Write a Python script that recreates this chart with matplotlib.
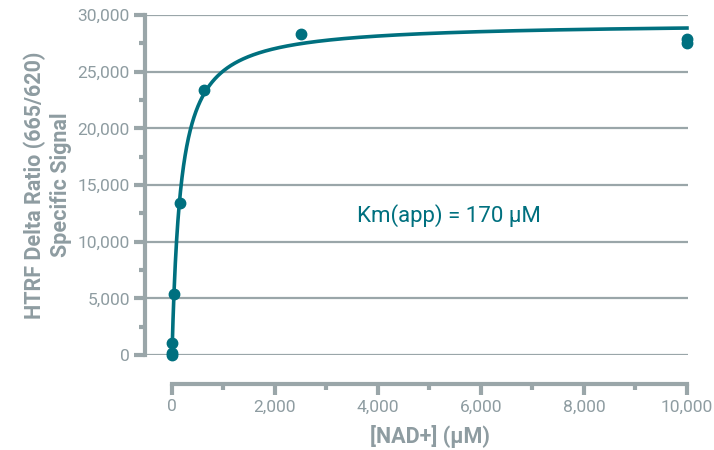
import numpy as np
import matplotlib
matplotlib.use("Agg")
import matplotlib.pyplot as plt
from matplotlib.ticker import MultipleLocator, FuncFormatter

# data
nad_um = [0, 2.4, 9.8, 39, 156, 625, 2500, 10000, 10000]
signal = [0, 150, 1100, 5400, 13400, 23400, 28300, 27550, 27850]
km_app = 170
vmax = 29340

teal = "#00707f"
grey = "#8e9ca1"
grid_c = "#9aa6a9"

plt.rcParams['font.family'] = ['Roboto', 'DejaVu Sans']

fig = plt.figure(figsize=(7.14, 4.5), dpi=100)
ax = fig.add_axes([145/714, 95/450, (688-145)/714, 340/450])

x_fit = np.linspace(0, 10000, 2000)
y_fit = vmax * x_fit / (km_app + x_fit)
ax.plot(x_fit, y_fit, color=teal, lw=2.6, zorder=3, clip_on=False)
ax.plot(nad_um, signal, 'o', color=teal, ms=7.5, zorder=4, clip_on=False)

ax.set_xlim(-524, 10020)
ax.set_ylim(0, 30000)

ax.yaxis.set_major_locator(MultipleLocator(5000))
ax.yaxis.set_minor_locator(MultipleLocator(2500))
ax.xaxis.set_major_locator(MultipleLocator(2000))
ax.xaxis.set_minor_locator(MultipleLocator(1000))
fmt = FuncFormatter(lambda v, p: f"{int(v):,}")
ax.yaxis.set_major_formatter(fmt)
ax.xaxis.set_major_formatter(fmt)

ax.grid(axis='y', color=grid_c, lw=1.6)
ax.set_axisbelow(True)
for s in ['top', 'right']:
    ax.spines[s].set_visible(False)
ax.spines['left'].set_color(grid_c)
ax.spines['left'].set_linewidth(3)
ax.spines['bottom'].set_color(grid_c)
ax.spines['bottom'].set_linewidth(3)
ax.spines['bottom'].set_position(('outward', 21))
ax.spines['bottom'].set_bounds(0, 10000)

ax.tick_params(axis='both', which='major', color=grid_c, width=3, length=8,
               labelcolor=grey, labelsize=12.5, pad=3)
ax.tick_params(axis='both', which='minor', color=grid_c, width=3, length=4)
ax.set_xticks([v for v in range(0, 10001, 2000)])

ax.set_ylabel("HTRF Delta Ratio (665/620)\nSpecific Signal", color=grey,
              fontsize=15.5, fontweight='bold', linespacing=1.25)
ax.yaxis.set_label_coords(-0.134, 0.5)
ax.set_xlabel("[NAD+] (µM)", color=grey, fontsize=15.5, fontweight='bold')
ax.xaxis.set_label_coords(0.525, -0.205)

ax.text(5380, 12350, "Km(app) = 170 µM", color=teal, fontsize=16, ha='center', va='center')

fig.savefig("out.png", dpi=100)
